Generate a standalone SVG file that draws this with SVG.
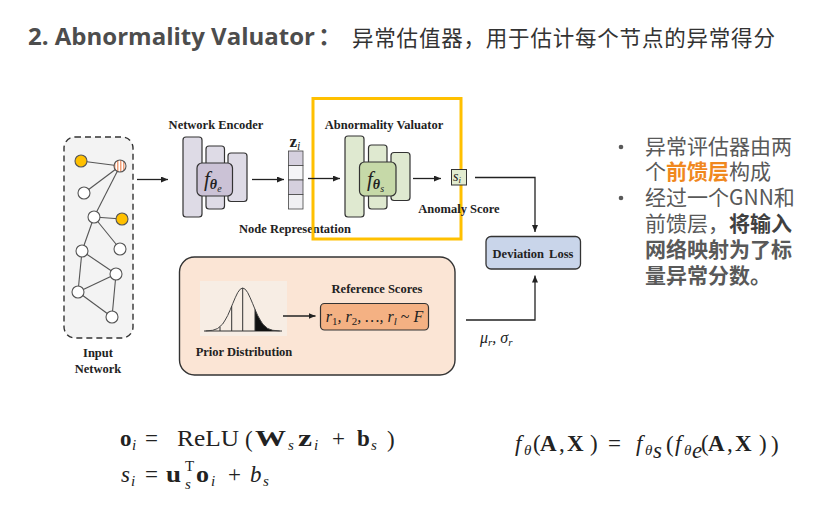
<svg xmlns="http://www.w3.org/2000/svg" width="827" height="507" viewBox="0 0 827 507">
<style>
.lbl{font-family:"Liberation Serif","DejaVu Serif",serif;font-weight:bold;font-size:12.5px;fill:#222}
.blk{stroke:#333;stroke-width:1.2}
.enc{fill:#dedbe6}
.encc{fill:#cbc2d6}
.val{fill:#dfe9d0}
.valc{fill:#c6d9a8}
.edge{stroke:#555;stroke-width:1.1}
.nd{fill:#fff;stroke:#555;stroke-width:1.1}
.con{stroke:#222;stroke-width:1.3;fill:none}
.m{font-family:"Liberation Serif","DejaVu Serif",serif;fill:#222;font-size:23px}
.b{font-weight:bold}
.i{font-style:italic}
.sub{font-size:15px}
.cn{font-family:"Noto Sans CJK SC",sans-serif;font-size:21px;fill:#595959}
</style>
<defs>
<marker id="arr" markerWidth="7" markerHeight="6" refX="7" refY="3" orient="auto" markerUnits="userSpaceOnUse">
<path d="M0,0 L7,3 L0,6 z" fill="#222"/>
</marker>
<pattern id="stripes" width="3" height="4" patternUnits="userSpaceOnUse">
<rect width="3" height="4" fill="#fff"/>
<rect width="1.5" height="4" fill="#f0a07a"/>
</pattern>
</defs>
<rect width="827" height="507" fill="#fff"/>

<g id="title">
<text x="28" y="45" font-family="'Open Sans',sans-serif" font-weight="bold" font-size="24" fill="#4d4d4d">2. Abnormality Valuator</text>
<text x="318" y="45" font-family="'Noto Sans CJK SC',sans-serif" font-weight="bold" font-size="24" fill="#4d4d4d">：</text>
<text x="352" y="46" font-family="'Noto Sans CJK SC',sans-serif" font-size="21.5" letter-spacing="0.8" fill="#333">异常估值器，用于估计每个节点的异常得分</text>
</g>

<g id="input-network">
<rect x="64" y="137" width="69" height="201" rx="11" fill="#f3f3f3" stroke="#333" stroke-width="1.4" stroke-dasharray="6,4"/>
<g class="edge">
<line x1="81" y1="161" x2="120" y2="166"/>
<line x1="120" y1="166" x2="84" y2="193"/>
<line x1="120" y1="166" x2="94" y2="217"/>
<line x1="94" y1="217" x2="122" y2="219"/>
<line x1="94" y1="217" x2="82" y2="251"/>
<line x1="94" y1="217" x2="120" y2="249"/>
<line x1="82" y1="251" x2="116" y2="274"/>
<line x1="82" y1="251" x2="78" y2="292"/>
<line x1="116" y1="274" x2="78" y2="292"/>
<line x1="116" y1="274" x2="112" y2="317"/>
<line x1="78" y1="292" x2="112" y2="317"/>
</g>
<circle cx="81" cy="161" r="6" fill="#ffc000" stroke="#555" stroke-width="1.1"/>
<circle cx="120" cy="166" r="6" fill="url(#stripes)" stroke="#555" stroke-width="1.1"/>
<circle class="nd" cx="84" cy="193" r="6"/>
<circle class="nd" cx="94" cy="217" r="6"/>
<circle cx="122" cy="219" r="6" fill="#ffc000" stroke="#555" stroke-width="1.1"/>
<circle class="nd" cx="82" cy="251" r="6"/>
<circle class="nd" cx="120" cy="249" r="6"/>
<circle class="nd" cx="116" cy="274" r="6"/>
<circle class="nd" cx="78" cy="292" r="6"/>
<circle class="nd" cx="112" cy="317" r="6"/>
<text class="lbl" x="98" y="357" text-anchor="middle" font-size="12">Input</text>
<text class="lbl" x="98" y="373" text-anchor="middle" font-size="12">Network</text>
</g>

<g id="network-encoder">
<text class="lbl" x="216" y="129" text-anchor="middle">Network Encoder</text>
<rect class="blk enc" x="183" y="137" width="19" height="80" rx="3"/>
<rect class="blk enc" x="206" y="146" width="18.5" height="63" rx="3"/>
<rect class="blk enc" x="228" y="153" width="19" height="48.5" rx="3"/>
<rect class="blk encc" x="197" y="163" width="35.5" height="33" rx="5"/>
<text x="204" y="186" font-family="'Liberation Serif',serif" font-size="21" font-style="italic" fill="#222">f<tspan font-size="14" font-weight="bold" dy="3">θ</tspan><tspan font-size="10" dy="3">e</tspan></text>
</g>

<g id="node-representation">
<text x="289.5" y="147" font-family="'Liberation Serif',serif" font-size="17" font-weight="bold" fill="#222">z<tspan font-weight="normal" font-style="italic" font-size="12" dy="3">i</tspan></text>
<rect x="288.5" y="151" width="14.5" height="14.5" fill="#d5d0de" stroke="#444" stroke-width="0.8"/>
<rect x="288.5" y="165.5" width="14.5" height="14.5" fill="#f5f5f7" stroke="#444" stroke-width="0.8"/>
<rect x="288.5" y="180" width="14.5" height="14.5" fill="#d5d0de" stroke="#444" stroke-width="0.8"/>
<rect x="288.5" y="194.5" width="14.5" height="14.5" fill="#f0f0f3" stroke="#444" stroke-width="0.8"/>
<text class="lbl" x="295" y="233" text-anchor="middle">Node Representation</text>
</g>

<g id="abnormality-valuator">
<rect x="313" y="98.5" width="148" height="140.5" fill="none" stroke="#ffc000" stroke-width="3"/>
<text class="lbl" x="384" y="129" text-anchor="middle">Abnormality Valuator</text>
<rect class="blk val" x="345" y="136" width="19" height="81" rx="3"/>
<rect class="blk val" x="368.5" y="145" width="18.5" height="64" rx="3"/>
<rect class="blk val" x="391" y="152.5" width="19" height="48" rx="3"/>
<rect class="blk valc" x="359.5" y="162" width="36.5" height="34" rx="5"/>
<text x="367" y="186" font-family="'Liberation Serif',serif" font-size="21" font-style="italic" fill="#222">f<tspan font-size="14" font-weight="bold" dy="3">θ</tspan><tspan font-size="10" dy="3">s</tspan></text>
</g>

<g id="anomaly-score">
<rect x="451.5" y="169.5" width="15" height="15.5" fill="#e2ecd0" stroke="#333" stroke-width="1"/>
<text x="453" y="181" font-family="'Liberation Serif',serif" font-size="14" font-style="italic" fill="#222">s<tspan font-size="9" dy="2">i</tspan></text>
<text class="lbl" x="459" y="213" text-anchor="middle">Anomaly Score</text>
</g>

<g id="deviation-loss">
<rect x="486" y="236.5" width="94.5" height="32.5" rx="5" fill="#c9d5ea" stroke="#333" stroke-width="1.3"/>
<text class="lbl" x="533" y="257.5" text-anchor="middle" word-spacing="2">Deviation Loss</text>
</g>

<g id="prior-distribution">
<rect x="179.5" y="257" width="275.5" height="118" rx="15" fill="#fbe5d5" stroke="#333" stroke-width="1.4"/>
<rect x="200" y="281" width="87" height="55" fill="#f7ede4"/>
<line x1="204" y1="331" x2="282" y2="331" stroke="#333" stroke-width="1"/>
<path d="M255,331 L255,309.4 L257.7,315.5 L260.2,320 L262.7,324 L265.2,326.6 L267.7,328.5 L272.7,330.3 L278,331 Z" fill="#111"/>
<polyline fill="none" stroke="#444" stroke-width="1" points="205.7,330.9 212.7,330.3 217.7,328.5 222.7,324 225.2,320 227.7,315.5 230.2,309.8 232.7,303.7 235.2,297.8 237.7,292.6 240.2,289.2 242.7,288 245.2,289.2 247.7,292.6 250.2,297.8 252.7,303.7 255.2,309.8 257.7,315.5 260.2,320 262.7,324 267.7,328.5 272.7,330.3 279.7,330.9"/>
<g stroke="#333" stroke-width="1">
<line x1="220" y1="331" x2="220" y2="326.8"/>
<line x1="231.7" y1="331" x2="231.7" y2="306.2"/>
<line x1="242.7" y1="331" x2="242.7" y2="288"/>
<line x1="255" y1="331" x2="255" y2="309.4"/>
</g>
<text class="lbl" x="244" y="356" text-anchor="middle">Prior Distribution</text>
</g>

<g id="reference-scores">
<text class="lbl" x="377" y="293" text-anchor="middle">Reference Scores</text>
<rect x="320.5" y="303.5" width="108" height="26.5" rx="4" fill="#f4b183" stroke="#333" stroke-width="1.2"/>
<text x="374.5" y="322" text-anchor="middle" font-family="'Liberation Serif',serif" font-size="16" font-style="italic" fill="#222">r<tspan font-size="11" font-style="normal" dy="3">1</tspan><tspan dy="-3">, r</tspan><tspan font-size="11" font-style="normal" dy="3">2</tspan><tspan dy="-3">, …, r</tspan><tspan font-size="11" dy="3">l</tspan><tspan dy="-3" font-style="normal"> ~ </tspan>F</text>
</g>

<g id="connectors">
<line class="con" x1="137" y1="179.5" x2="168" y2="179.5" marker-end="url(#arr)"/>
<line class="con" x1="252" y1="179.5" x2="284" y2="179.5" marker-end="url(#arr)"/>
<line class="con" x1="308" y1="178.5" x2="340" y2="178.5" marker-end="url(#arr)"/>
<line class="con" x1="413" y1="178.5" x2="441" y2="178.5" marker-end="url(#arr)"/>
<polyline class="con" points="475,177.5 535,177.5 535,232" marker-end="url(#arr)"/>
<polyline class="con" points="466,320 535,320 535,275.5" marker-end="url(#arr)"/>
<line class="con" x1="283" y1="316" x2="315.5" y2="316" marker-end="url(#arr)"/>
<text x="480" y="343" font-family="'Liberation Serif',serif" font-size="16" font-style="italic" fill="#222">μ<tspan font-size="11" dy="3">r</tspan><tspan dy="-3">, σ</tspan><tspan font-size="11" dy="3">r</tspan></text>
</g>

<g id="notes">
<circle cx="621" cy="147" r="2.3" fill="#595959"/>
<circle cx="621" cy="198" r="2.3" fill="#595959"/>
<text class="cn" x="645" y="154">异常评估器由两</text>
<text class="cn" x="645" y="179">个<tspan fill="#f0881e" font-weight="bold">前馈层</tspan>构成</text>
<text class="cn" x="645" y="205">经过一个GNN和</text>
<text class="cn" x="645" y="231">前馈层，<tspan font-weight="bold" fill="#404040">将输入</tspan></text>
<text class="cn" x="645" y="257" font-weight="bold" fill="#404040">网络映射为了标</text>
<text class="cn" x="645" y="283" font-weight="bold" fill="#404040">量异常分数。</text>
</g>

<g id="formula-left">
<text class="m b" x="120" y="446">o</text>
<text class="m i sub" x="132" y="450">i</text>
<text class="m" x="145" y="446">=</text>
<text class="m" x="177" y="446" textLength="62" lengthAdjust="spacingAndGlyphs">ReLU</text>
<text class="m" x="245" y="447" font-size="25">(</text>
<text class="m b" x="255" y="446" textLength="31" lengthAdjust="spacingAndGlyphs">W</text>
<text class="m i sub" x="288" y="450">s</text>
<text class="m b" x="298" y="446" textLength="14" lengthAdjust="spacingAndGlyphs">z</text>
<text class="m i sub" x="314" y="450">i</text>
<text class="m" x="332" y="446">+</text>
<text class="m b" x="357" y="446">b</text>
<text class="m i sub" x="371" y="450">s</text>
<text class="m" x="387" y="447" font-size="25">)</text>

<text class="m i" x="121" y="482">s</text>
<text class="m i sub" x="131" y="486">i</text>
<text class="m" x="145" y="482">=</text>
<text class="m b" x="166" y="482" textLength="15" lengthAdjust="spacingAndGlyphs">u</text>
<text class="m sub" x="185" y="471">T</text>
<text class="m i sub" x="185" y="489">s</text>
<text class="m b" x="196" y="482" textLength="13" lengthAdjust="spacingAndGlyphs">o</text>
<text class="m i sub" x="211" y="486">i</text>
<text class="m" x="228" y="482">+</text>
<text class="m i" x="250" y="482">b</text>
<text class="m i sub" x="263" y="486">s</text>
</g>

<g id="formula-right">
<text class="m i" x="515" y="451" font-size="24">f</text>
<text class="m i sub" x="524" y="455">θ</text>
<text class="m" x="533" y="451" font-size="24">(</text>
<text class="m b" x="540" y="451" font-size="24">A</text>
<text class="m" x="559" y="451" font-size="24">,</text>
<text class="m b" x="567" y="451" font-size="24">X</text>
<text class="m" x="590" y="451" font-size="24">)</text>
<text class="m" x="608" y="451" font-size="24">=</text>
<text class="m i" x="636" y="451" font-size="24">f</text>
<text class="m i sub" x="645" y="455">θ</text>
<text class="m i" x="653" y="458" font-size="11">s</text>
<text class="m" x="666" y="452" font-size="26">(</text>
<text class="m i" x="675" y="451" font-size="24">f</text>
<text class="m i sub" x="684" y="455">θ</text>
<text class="m i" x="692" y="458" font-size="11">e</text>
<text class="m" x="701" y="451" font-size="24">(</text>
<text class="m b" x="708" y="451" font-size="24">A</text>
<text class="m" x="727" y="451" font-size="24">,</text>
<text class="m b" x="735" y="451" font-size="24">X</text>
<text class="m" x="759" y="451" font-size="24">)</text>
<text class="m" x="771" y="452" font-size="26">)</text>
</g>
</svg>
